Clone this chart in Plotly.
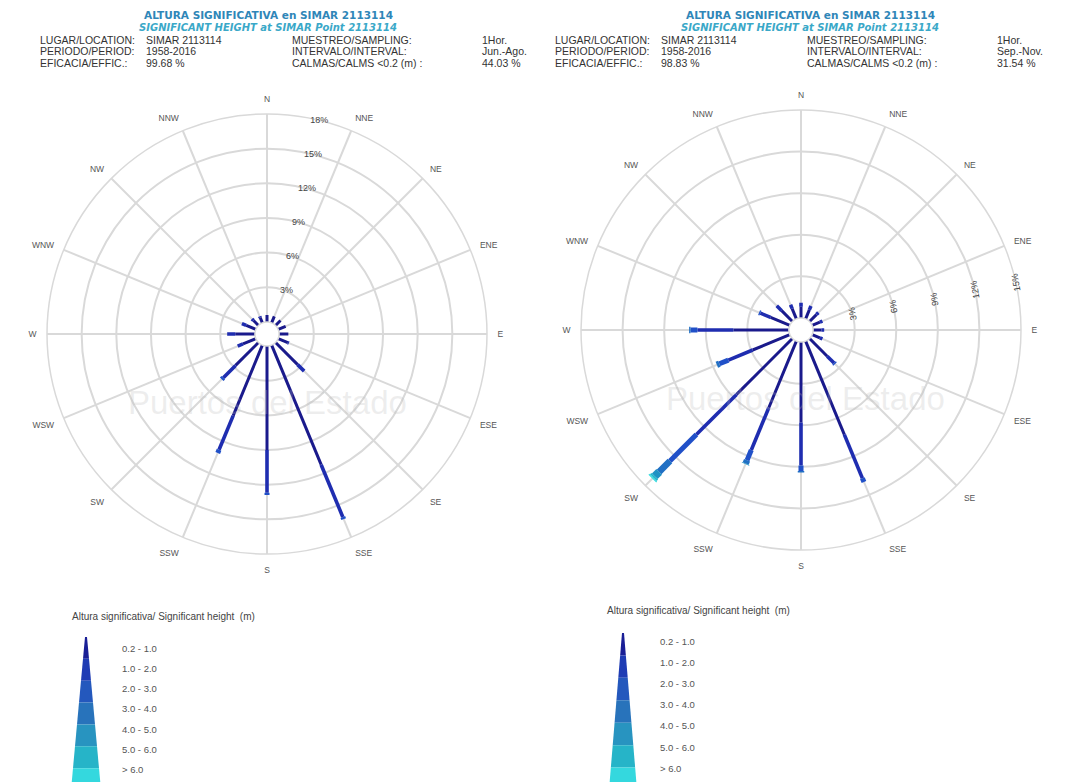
import plotly.graph_objects as go

# ---------------- data ----------------
directions = ["N", "NNE", "NE", "ENE", "E", "ESE", "SE", "SSE",
              "S", "SSW", "SW", "WSW", "W", "WNW", "NW", "NNW"]
height_classes = ["0.2 - 1.0", "1.0 - 2.0", "2.0 - 3.0", "3.0 - 4.0",
                  "4.0 - 5.0", "5.0 - 6.0", "> 6.0"]
radial_ticks_left = [3, 6, 9, 12, 15, 18]
radial_ticks_right = [3, 6, 9, 12, 15]

# Jun.-Ago. frequencies (%) per height class, one value per direction
jun_ago_02_10 = [0.6, 0.6, 0.6, 0.7, 0.8, 0.9, 2.7, 11.2, 9.0, 6.6, 2.8, 1.2, 1.7, 0.9, 0.6, 0.5]
jun_ago_10_20 = [0.0, 0.0, 0.0, 0.0, 0.0, 0.1, 0.8, 4.9, 3.7, 3.2, 1.5, 0.5, 0.7, 0.4, 0.2, 0.1]
jun_ago_20_30 = [0.0, 0.0, 0.0, 0.0, 0.0, 0.0, 0.0, 0.2, 0.2, 0.3, 0.2, 0.0, 0.0, 0.0, 0.0, 0.0]
jun_ago_30_40 = [0.0] * 16
jun_ago_40_50 = [0.0] * 16
jun_ago_50_60 = [0.0] * 16
jun_ago_gt60 = [0.0] * 16

# Sep.-Nov. frequencies (%) per height class
sep_nov_02_10 = [0.8, 0.7, 0.7, 0.6, 0.6, 0.6, 1.8, 7.3, 5.8, 5.2, 5.7, 2.9, 4.0, 1.5, 1.1, 0.8]
sep_nov_10_20 = [0.3, 0.3, 0.2, 0.2, 0.2, 0.2, 0.7, 3.4, 3.1, 3.3, 4.1, 1.9, 2.6, 0.8, 0.5, 0.3]
sep_nov_20_30 = [0.0, 0.0, 0.0, 0.0, 0.0, 0.0, 0.1, 0.3, 0.4, 0.8, 2.7, 0.7, 0.5, 0.1, 0.0, 0.0]
sep_nov_30_40 = [0.0, 0.0, 0.0, 0.0, 0.0, 0.0, 0.0, 0.0, 0.1, 0.25, 1.1, 0.2, 0.1, 0.0, 0.0, 0.0]
sep_nov_40_50 = [0.0, 0.0, 0.0, 0.0, 0.0, 0.0, 0.0, 0.0, 0.0, 0.05, 0.45, 0.0, 0.0, 0.0, 0.0, 0.0]
sep_nov_50_60 = [0.0, 0.0, 0.0, 0.0, 0.0, 0.0, 0.0, 0.0, 0.0, 0.0, 0.15, 0.0, 0.0, 0.0, 0.0, 0.0]
sep_nov_gt60 = [0.0, 0.0, 0.0, 0.0, 0.0, 0.0, 0.0, 0.0, 0.0, 0.0, 0.1, 0.0, 0.0, 0.0, 0.0, 0.0]

jun_ago = [jun_ago_02_10, jun_ago_10_20, jun_ago_20_30, jun_ago_30_40,
           jun_ago_40_50, jun_ago_50_60, jun_ago_gt60]
sep_nov = [sep_nov_02_10, sep_nov_10_20, sep_nov_20_30, sep_nov_30_40,
           sep_nov_40_50, sep_nov_50_60, sep_nov_gt60]

header_left = {
    "location": "SIMAR 2113114", "period": "1958-2016", "effic": "99.68 %",
    "sampling": "1Hor.", "interval": "Jun.-Ago.", "calms": "44.03 %",
}
header_right = {
    "location": "SIMAR 2113114", "period": "1958-2016", "effic": "98.83 %",
    "sampling": "1Hor.", "interval": "Sep.-Nov.", "calms": "31.54 %",
}

# ---------------- style ----------------
class_colors = ["#1a1a8c", "#1f2db0", "#2050c8", "#2070c4", "#2092c4", "#22b6cc", "#3adcdf"]
legend_colors = ["#1a1f96", "#1f3cb4", "#2458bd", "#2873bb", "#2894c0", "#26b4c8", "#34d8de"]
class_widths = [3, 3.6, 5, 6.5, 8, 9.5, 11]

W, H = 1069, 782
OFF = 8  # page body margin offset


def px(x):
    return (x - OFF) / W


def py(y):
    return 1 - (y - OFF) / H


fig = go.Figure()


def add_rose(data, subplot):
    base = [0.0] * len(directions)
    for k, vals in enumerate(data):
        rr, tt = [], []
        for i, v in enumerate(vals):
            if v > 0:
                rr += [base[i], base[i] + v, None]
                tt += [directions[i], directions[i], None]
                base[i] += v
        if rr:
            fig.add_trace(go.Scatterpolar(
                r=rr, theta=tt, mode="lines", subplot=subplot,
                line=dict(color=class_colors[k], width=class_widths[k]),
                name=height_classes[k], showlegend=False, hoverinfo="skip"))


add_rose(jun_ago, "polar")
add_rose(sep_nov, "polar2")

grid_col = "#d9d9d9"


def polar_layout(domain_x, domain_y, ticks, rmax, rad_angle, side, tickangle):
    return dict(
        domain=dict(x=domain_x, y=domain_y),
        hole=0.055,
        bgcolor="white",
        radialaxis=dict(
            range=[0, rmax], tickvals=ticks, ticktext=[f"{t}%" for t in ticks],
            showline=False, ticks="", angle=rad_angle, tickangle=tickangle, side=side,
            gridcolor=grid_col, gridwidth=1.5,
            tickfont=dict(size=9, color="#444", family="Liberation Sans")),
        angularaxis=dict(
            type="category", categoryarray=directions, direction="clockwise",
            rotation=90, gridcolor=grid_col, gridwidth=1.5,
            linecolor=grid_col, linewidth=1.5,
            ticks="outside", ticklen=8, tickcolor="rgba(0,0,0,0)",
            tickfont=dict(size=8.5, color="#555", family="Liberation Sans")),
    )


fig.update_layout(
    width=W, height=H, margin=dict(l=0, r=0, t=0, b=0),
    paper_bgcolor="white", plot_bgcolor="white", showlegend=False,
    polar=polar_layout([px(47), px(487)], [py(554), py(114)],
                       radial_ticks_left, 18, 80, "clockwise", 80),
    polar2=polar_layout([px(581), px(1021)], [py(550), py(110)],
                        radial_ticks_right, 15, 10, "counterclockwise", -90),
)

ann = []


def text(x, y, s, size=10, color="#333", xanchor="left", bold=False, italic=False,
         family="Liberation Sans"):
    if bold:
        s = "<b>" + s + "</b>"
    if italic:
        s = "<i>" + s + "</i>"
    ann.append(dict(x=px(x), y=py(y), xref="paper", yref="paper", text=s,
                    showarrow=False, xanchor=xanchor, yanchor="middle",
                    font=dict(size=size, color=color, family=family)))


def header(x0, hd, title_cx):
    text(title_cx, 15, "ALTURA SIGNIFICATIVA en SIMAR 2113114", size=10.5,
         color="#2f86b8", xanchor="center", bold=True, family="DejaVu Sans")
    text(title_cx, 27, "SIGNIFICANT HEIGHT at SIMAR Point 2113114", size=10,
         color="#3aa8c8", xanchor="center", bold=True, italic=True, family="DejaVu Sans")
    rows = [("LUGAR/LOCATION:", hd["location"], "MUESTREO/SAMPLING:", hd["sampling"]),
            ("PERIODO/PERIOD:", hd["period"], "INTERVALO/INTERVAL:", hd["interval"]),
            ("EFICACIA/EFFIC.:", hd["effic"], "CALMAS/CALMS <0.2 (m) :", hd["calms"])]
    for j, (a, b, c, d) in enumerate(rows):
        y = 40 + j * 11.5
        text(x0, y, a, size=10.5)
        text(x0 + 106, y, b, size=10.5)
        text(x0 + 252, y, c, size=10.5)
        text(x0 + 442, y, d, size=10.5)


header(38, header_left, 268)
header(553, header_right, 810)

# watermark
text(267, 402, "Puertos del Estado", size=33, color="rgba(185,185,185,0.25)",
     xanchor="center", family="Liberation Sans")
text(806, 398, "Puertos del Estado", size=33, color="rgba(185,185,185,0.25)",
     xanchor="center", family="Liberation Sans")

shapes = []


def legend(title_x, title_y, cx, top, bottom, w0, w1, lab_x, lab_y0, lab_dy):
    text(title_x, title_y, "Altura significativa/ Significant height  (m)", size=10, color="#444")
    n = len(height_classes)
    seg = (bottom - top) / n
    for i in range(n):
        ya, yb = top + i * seg, top + (i + 1) * seg
        wa = w0 + (w1 - w0) * (ya - top) / (bottom - top)
        wb = w0 + (w1 - w0) * (yb - top) / (bottom - top)
        path = (f"M {px(cx - wa / 2)},{py(ya)} L {px(cx + wa / 2)},{py(ya)} "
                f"L {px(cx + wb / 2)},{py(yb)} L {px(cx - wb / 2)},{py(yb)} Z")
        shapes.append(dict(type="path", path=path, xref="paper", yref="paper",
                           fillcolor=legend_colors[i], line=dict(width=0)))
        text(lab_x, lab_y0 + i * lab_dy, height_classes[i], size=9.5, color="#555")


legend(70, 616, 86, 637, 790, 2, 30, 120, 648, 20.3)
legend(605, 610, 623, 633, 790, 2, 28, 658, 641, 21.2)

fig.update_layout(annotations=ann, shapes=shapes)
fig.write_html("out.html")
